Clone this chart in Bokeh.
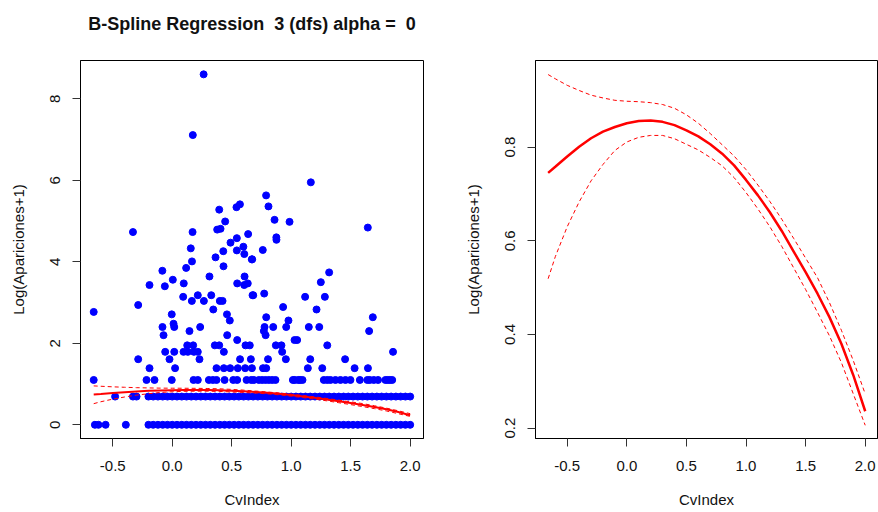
from bokeh.plotting import figure
from bokeh.layouts import row
from bokeh.models import Range1d, FixedTicker, PrintfTickFormatter, Title
from bokeh.embed import file_html
from bokeh.resources import INLINE

FONT = "Liberation Sans"

# ---- scatter data (CvIndex, Log(Apariciones+1)) ----
pts_x = [0.264, 0.173, 1.165, -0.330, 0.171, 0.156, 0.166, 0.395, 0.445, 0.378, 0.406,
         0.490, 0.429, 0.543, 0.543, 0.598, 0.606, 0.638, 0.669, 0.364, 0.540, 0.569,
         0.789, 0.809, 0.860, 0.986, 0.761, 0.875, 0.876, 1.644, 0.672,
         -0.660, -0.286, -0.191, -0.083, -0.062, 0.005, 0.097, 0.117, 0.431, 1.319,
         1.249, 0.546, 0.605, 0.635, 0.313, 0.608, 0.092, 1.117, 1.283, 0.215, 0.328,
         0.675, 0.681, 0.773, 0.165, 0.266, 0.400, 0.423,
         0.932, 0.345, 1.213, -0.004, 0.460, 0.790, 1.686, 0.484, 0.977, 0.011,
         -0.082, 0.017, 0.235, 0.776, 0.849, 0.958, 1.148, 1.236,
         0.145, 0.770, 1.655, -0.073, 0.462, 0.785, 0.546, 1.028, 1.050,
         0.126, 0.176, 0.358, 0.395, 0.616, 0.652, 0.871, 0.918, 1.303,
         -0.059, 0.017, 0.095, 0.131, 0.182, 0.215, 0.434, 0.924, 1.856,
         -0.286, -0.023, 0.229, 0.570, 0.661, 0.805, 0.955, 1.160, 1.453,
         -0.191, 0.024, 0.372, 0.434, 0.487, 0.551, 0.613, 0.670, 0.763, 0.790,
         1.140, 1.261, 1.533, 1.645,
         -0.660, -0.216, -0.149, -0.004, 0.179, 0.215, 0.308, 0.341, 0.372, 0.440,
         0.513, 0.546, 0.625, 0.664, 0.686, 0.728, 0.756, 0.784, 0.812, 0.840, 0.868,
         1.014, 1.030, 1.059, 1.075, 1.095, 1.274, 1.303, 1.330, 1.372, 1.414, 1.456,
         1.498, 1.577, 1.640, 1.660, 1.694, 1.730, 1.792, 1.810, 1.829, 1.849]
pts_y = [8.60, 7.11, 5.95, 4.73, 4.73, 4.33, 4.01, 5.28, 4.99, 4.79, 4.81,
         4.47, 4.26, 4.58, 4.28, 4.37, 4.19, 4.68, 4.06, 4.11, 5.34, 5.41,
         5.63, 5.36, 5.03, 4.98, 4.29, 4.60, 4.54, 4.84, 4.06,
         2.77, 2.94, 3.43, 3.78, 3.40, 3.56, 3.47, 3.85, 3.89, 3.74,
         3.50, 3.47, 3.43, 3.47, 3.64, 3.64, 3.14, 3.14, 3.14, 3.18, 3.18,
         3.18, 3.18, 3.22, 3.04, 3.04, 3.04, 3.04,
         2.89, 2.83, 2.83, 2.71, 2.71, 2.64, 2.64, 2.56, 2.56, 2.48,
         2.40, 2.40, 2.40, 2.40, 2.40, 2.40, 2.40, 2.40,
         2.30, 2.30, 2.30, 2.20, 2.20, 2.20, 2.08, 2.08, 2.08,
         1.95, 1.95, 1.95, 1.95, 1.95, 1.95, 1.95, 1.95, 1.95,
         1.79, 1.79, 1.79, 1.79, 1.79, 1.79, 1.79, 1.79, 1.79,
         1.61, 1.61, 1.61, 1.61, 1.61, 1.61, 1.61, 1.61, 1.61,
         1.39, 1.39, 1.39, 1.39, 1.39, 1.39, 1.39, 1.39, 1.39, 1.39,
         1.39, 1.39, 1.39, 1.39,
         1.10, 1.10, 1.10, 1.10, 1.10, 1.10, 1.10, 1.10, 1.10, 1.10,
         1.10, 1.10, 1.10, 1.10, 1.10, 1.10, 1.10, 1.10, 1.10, 1.10, 1.10,
         1.10, 1.10, 1.10, 1.10, 1.10, 1.10, 1.10, 1.10, 1.10, 1.10, 1.10,
         1.10, 1.10, 1.10, 1.10, 1.10, 1.10, 1.10, 1.10, 1.10, 1.10]

# dense rows at Log(1)=0 and Log(2)=0.69
row0_x = [-0.65, -0.62, -0.56, -0.39]
row1_x = [-0.48, -0.33, -0.30]
dense_x = [-0.20, -0.16, -0.12, -0.08, -0.04, 0.00, 0.04, 0.08, 0.12, 0.16, 0.20,
           0.24, 0.28, 0.32, 0.36, 0.40, 0.44, 0.48, 0.52, 0.56, 0.60, 0.64, 0.68,
           0.72, 0.76, 0.80, 0.84, 0.88, 0.92, 0.96, 1.00, 1.04, 1.08, 1.12, 1.16,
           1.20, 1.24, 1.28, 1.32, 1.36, 1.40, 1.44, 1.48, 1.52, 1.56, 1.60, 1.64,
           1.68, 1.72, 1.76, 1.80, 1.84, 1.88, 1.92, 1.96, 2.00]
row0_y = 0.0
row1_y = 0.693

# ---- spline fit and confidence band ----
fit_x = [-0.66, -0.60, -0.50, -0.40, -0.30, -0.20, -0.10, 0.00, 0.10, 0.20, 0.30,
         0.40, 0.50, 0.60, 0.70, 0.80, 0.90, 1.00, 1.10, 1.20, 1.30, 1.40, 1.50,
         1.60, 1.70, 1.80, 1.90, 2.00]
fit_y = [0.745, 0.758, 0.780, 0.801, 0.819, 0.833, 0.843, 0.851, 0.856, 0.857, 0.854,
         0.847, 0.836, 0.823, 0.806, 0.786, 0.761, 0.730, 0.697, 0.661, 0.621, 0.577,
         0.533, 0.487, 0.437, 0.380, 0.313, 0.236]
upper_y = [0.955, 0.946, 0.932, 0.921, 0.911, 0.905, 0.900, 0.898, 0.897, 0.895, 0.891,
           0.883, 0.869, 0.851, 0.829, 0.805, 0.781, 0.752, 0.719, 0.684, 0.646, 0.605,
           0.563, 0.521, 0.468, 0.409, 0.344, 0.273]
lower_y = [0.519, 0.566, 0.630, 0.683, 0.728, 0.763, 0.793, 0.811, 0.821, 0.825, 0.825,
           0.818, 0.806, 0.794, 0.778, 0.760, 0.735, 0.703, 0.668, 0.630, 0.588, 0.542,
           0.496, 0.447, 0.397, 0.340, 0.273, 0.206]

x_ticks = [-0.5, 0.0, 0.5, 1.0, 1.5, 2.0]
y_ticks_left = [0, 2, 4, 6, 8]
y_ticks_right = [0.2, 0.4, 0.6, 0.8]

title_text = "B-Spline Regression \u00a03 (dfs) alpha = \u00a00"
x_label = "CvIndex"
y_label = "Log(Apariciones+1)"


def style(p, yticks, yfmt):
    p.outline_line_color = "black"
    p.outline_line_width = 1
    p.xgrid.visible = False
    p.ygrid.visible = False
    p.background_fill_color = "white"
    p.border_fill_color = "white"
    for ax in (p.xaxis[0], p.yaxis[0]):
        ax.major_tick_out = 8
        ax.major_tick_in = 0
        ax.minor_tick_out = 0
        ax.minor_tick_in = 0
        ax.axis_line_color = "black"
        ax.major_tick_line_color = "#333333"
        ax.major_label_text_font = FONT
        ax.major_label_text_font_size = "15px"
        ax.major_label_text_color = "#111111"
        ax.axis_label_text_font = FONT
        ax.axis_label_text_font_size = "15px"
        ax.axis_label_text_font_style = "normal"
        ax.axis_label_text_color = "#111111"
    p.xaxis.ticker = FixedTicker(ticks=x_ticks)
    p.xaxis.formatter = PrintfTickFormatter(format="%.1f")
    p.xaxis.major_label_standoff = 14
    p.xaxis.axis_label_standoff = 17
    p.yaxis.ticker = FixedTicker(ticks=yticks)
    p.yaxis.formatter = PrintfTickFormatter(format=yfmt)
    p.yaxis.major_label_orientation = "vertical"
    p.yaxis.major_label_standoff = 12
    p.yaxis.axis_label_standoff = 21
    p.xaxis.axis_label = x_label
    p.yaxis.axis_label = y_label


p1 = figure(width=440, height=512, output_backend="svg", toolbar_location=None,
            x_range=Range1d(-0.771, 2.112), y_range=Range1d(-0.336, 8.94),
            min_border_left=80, min_border_right=17, min_border_top=60,
            min_border_bottom=74)
style(p1, y_ticks_left, "%d")
p1.title.text = title_text
p1.title.align = "center"
p1.title.text_font = FONT
p1.title.text_font_size = "18px"
p1.title.text_font_style = "bold"
p1.title.text_color = "#111111"
p1.title.standoff = 4
# blank spacer panel between the title and the frame
spacer = Title(text=" ", text_font=FONT, text_font_size="18px", standoff=3)
p1.add_layout(spacer, "above")

dot = dict(size=7, fill_color="#0000FF", line_color="#0000FF", line_width=1)
p1.scatter(pts_x, pts_y, **dot)
p1.scatter(row0_x, [row0_y] * len(row0_x), **dot)
p1.scatter(row1_x, [row1_y] * len(row1_x), **dot)
p1.scatter(dense_x, [row0_y] * len(dense_x), **dot)
p1.scatter(dense_x, [row1_y] * len(dense_x), **dot)
p1.line(fit_x, fit_y, line_color="red", line_width=2)
p1.line(fit_x, upper_y, line_color="red", line_width=1, line_dash="4 3")
p1.line(fit_x, lower_y, line_color="red", line_width=1, line_dash="4 3")

p2 = figure(width=438, height=512, output_backend="svg", toolbar_location=None,
            x_range=Range1d(-0.766, 2.103), y_range=Range1d(0.1778, 0.985),
            min_border_left=95, min_border_right=1, min_border_top=60,
            min_border_bottom=74)
style(p2, y_ticks_right, "%.1f")
p2.line(fit_x, fit_y, line_color="red", line_width=2.5)
p2.line(fit_x, upper_y, line_color="red", line_width=1, line_dash="4 3")
p2.line(fit_x, lower_y, line_color="red", line_width=1, line_dash="4 3")

layout = row(p1, p2)
open("out.html", "w").write(file_html(layout, INLINE))
